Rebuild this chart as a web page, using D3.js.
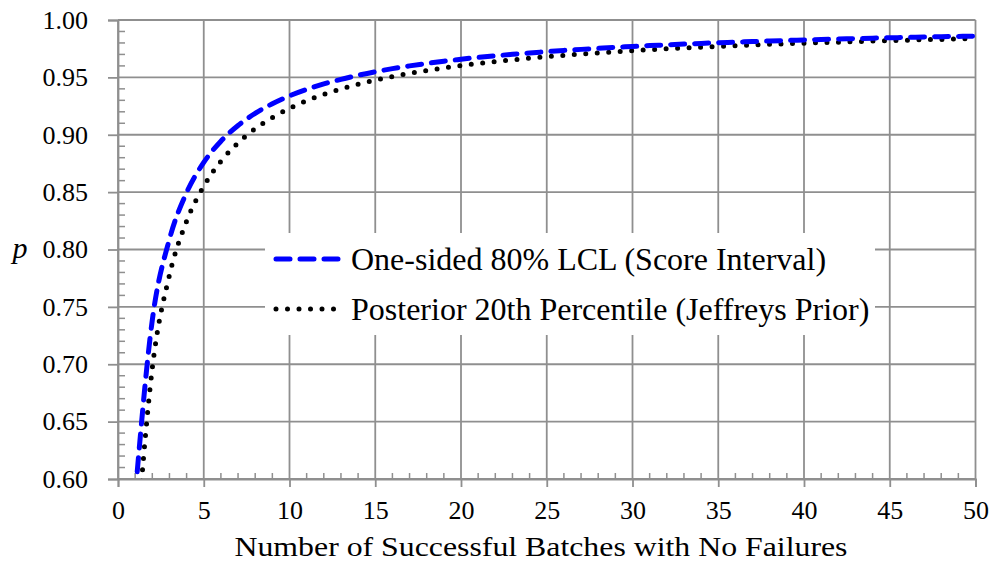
<!DOCTYPE html>
<html>
<head>
<meta charset="utf-8">
<script src="https://cdn.jsdelivr.net/npm/d3@7"></script>
<style>
  body { margin: 0; background: #fff; }
  text { font-family: 'Liberation Serif', serif; fill: #000; }
</style>
</head>
<body>
<div id="chart"></div>
<script>
// number of successful batches (n)
let batches = [1, 2, 3, 4, 5, 6, 7, 8, 9, 10,
  11, 12, 13, 14, 15, 16, 17, 18, 19, 20,
  21, 22, 23, 24, 25, 26, 27, 28, 29, 30,
  31, 32, 33, 34, 35, 36, 37, 38, 39, 40,
  41, 42, 43, 44, 45, 46, 47, 48, 49, 50];

// one-sided 80% lower confidence limit (score interval)
let scoreLCL = [0.5854, 0.7385, 0.8090, 0.8496, 0.8759, 0.8944, 0.9081, 0.9187, 0.9270, 0.9339,
  0.9395, 0.9443, 0.9483, 0.9518, 0.9549, 0.9576, 0.9600, 0.9621, 0.9641, 0.9658,
  0.9674, 0.9688, 0.9701, 0.9713, 0.9724, 0.9735, 0.9744, 0.9753, 0.9762, 0.9769,
  0.9777, 0.9783, 0.9790, 0.9796, 0.9802, 0.9807, 0.9812, 0.9817, 0.9822, 0.9826,
  0.9830, 0.9834, 0.9838, 0.9842, 0.9845, 0.9848, 0.9852, 0.9855, 0.9857, 0.9860];

// posterior 20th percentile (Jeffreys prior)
let jeffreys = [0.5280, 0.6966, 0.7777, 0.8247, 0.8552, 0.8769, 0.8929, 0.9053, 0.9150, 0.9230,
  0.9296, 0.9352, 0.9399, 0.9440, 0.9476, 0.9507, 0.9535, 0.9560, 0.9582, 0.9603,
  0.9621, 0.9638, 0.9653, 0.9667, 0.9680, 0.9692, 0.9703, 0.9713, 0.9723, 0.9732,
  0.9741, 0.9749, 0.9756, 0.9763, 0.9770, 0.9776, 0.9782, 0.9788, 0.9793, 0.9798,
  0.9803, 0.9807, 0.9812, 0.9816, 0.9820, 0.9824, 0.9828, 0.9831, 0.9835, 0.9838];

let seriesNames = ["One-sided 80% LCL (Score Interval)", "Posterior 20th Percentile (Jeffreys Prior)"];
let xTicks = [0, 5, 10, 15, 20, 25, 30, 35, 40, 45, 50];
let yTicks = [0.60, 0.65, 0.70, 0.75, 0.80, 0.85, 0.90, 0.95, 1.00];

let width = 993,
    height = 571,
    margin = {left: 118, right: 17.5, top: 20, bottom: 92};

let x = d3.scaleLinear().domain([0, 50]).range([margin.left, width - margin.right]);
let y = d3.scaleLinear().domain([0.60, 1.00]).range([height - margin.bottom, margin.top]);

let svg = d3.select("#chart")
    .append("svg")
    .attr("width", width)
    .attr("height", height);

let gridColor = "#8f8f8f";

// gridlines
svg.append("g")
    .selectAll("line")
    .data(xTicks)
    .enter().append("line")
    .attr("x1", d => x(d)).attr("x2", d => x(d))
    .attr("y1", y(1.00)).attr("y2", y(0.60))
    .attr("stroke", gridColor).attr("stroke-width", 1.8);

svg.append("g")
    .selectAll("line")
    .data(yTicks)
    .enter().append("line")
    .attr("x1", x(0)).attr("x2", x(50))
    .attr("y1", d => y(d)).attr("y2", d => y(d))
    .attr("stroke", gridColor).attr("stroke-width", 1.8);

// minor ticks (inside)
let xMinor = d3.range(0, 51, 1).filter(d => d % 5 !== 0);
svg.append("g")
    .selectAll("line")
    .data(xMinor)
    .enter().append("line")
    .attr("x1", d => x(d)).attr("x2", d => x(d))
    .attr("y1", y(0.60)).attr("y2", y(0.60) - 6)
    .attr("stroke", gridColor).attr("stroke-width", 1.5);

let yMinor = d3.range(60, 101, 1).filter(d => d % 5 !== 0).map(d => d / 100);
svg.append("g")
    .selectAll("line")
    .data(yMinor)
    .enter().append("line")
    .attr("x1", x(0)).attr("x2", x(0) + 7)
    .attr("y1", d => y(d)).attr("y2", d => y(d))
    .attr("stroke", gridColor).attr("stroke-width", 1.5);

// axes
let xAxis = d3.axisBottom(x).tickValues(xTicks).tickSize(8).tickPadding(14).tickFormat(d3.format("d"));
let gx = svg.append("g")
    .attr("transform", "translate(0," + y(0.60) + ")")
    .call(xAxis);

let yAxis = d3.axisLeft(y).tickValues(yTicks).tickSize(10).tickPadding(20).tickFormat(d3.format(".2f"));
let gy = svg.append("g")
    .attr("transform", "translate(" + x(0) + ",0)")
    .call(yAxis);

[gx, gy].forEach(g => {
  g.attr("font-family", null).attr("font-size", null);
  g.select(".domain").attr("stroke", gridColor).attr("stroke-width", 1.8);
  g.selectAll(".tick line").attr("stroke", gridColor).attr("stroke-width", 1.8);
  g.selectAll(".tick text")
    .attr("fill", "#000")
    .style("font-size", "26px");
});

// axis titles
svg.append("text")
    .attr("x", 541)
    .attr("y", 556)
    .attr("text-anchor", "middle")
    .attr("textLength", 613)
    .attr("lengthAdjust", "spacingAndGlyphs")
    .style("font-size", "28px")
    .text("Number of Successful Batches with No Failures");

svg.append("text")
    .attr("x", 20)
    .attr("y", 258)
    .attr("text-anchor", "middle")
    .style("font-size", "30px")
    .style("font-style", "italic")
    .text("p");

// curves
svg.append("clipPath")
    .attr("id", "plot-clip")
    .append("rect")
    .attr("x", x(0)).attr("y", y(1.00) - 4)
    .attr("width", x(50) - x(0) + 4)
    .attr("height", y(0.60) - y(1.00) + 4);

let line = d3.line()
    .x(d => x(d[0]))
    .y(d => y(d[1]))
    .curve(d3.curveMonotoneX);

let scorePts = batches.map((n, i) => [n, scoreLCL[i]]);
let jeffPts = batches.map((n, i) => [n, jeffreys[i]]);

let curves = svg.append("g").attr("clip-path", "url(#plot-clip)");

curves.append("path")
    .attr("d", line(jeffPts))
    .attr("fill", "none")
    .attr("stroke", "#000")
    .attr("stroke-width", 5)
    .attr("stroke-linecap", "round")
    .attr("stroke-dasharray", "0,11.5");

curves.append("path")
    .attr("d", line(scorePts))
    .attr("fill", "none")
    .attr("stroke", "#0000ff")
    .attr("stroke-width", 5)
    .attr("stroke-linecap", "round")
    .attr("stroke-dasharray", "14,10");

// legend
let legend = svg.append("g");
legend.append("rect")
    .attr("x", 265).attr("y", 233)
    .attr("width", 610).attr("height", 102)
    .attr("fill", "#fff");

let legendRows = [
  {name: seriesNames[0], color: "#0000ff", dash: "14,10", y: 259},
  {name: seriesNames[1], color: "#000", dash: "0,11.5", y: 309}
];

legendRows.forEach(r => {
  legend.append("line")
      .attr("x1", 276).attr("x2", 338)
      .attr("y1", r.y).attr("y2", r.y)
      .attr("stroke", r.color)
      .attr("stroke-width", 5)
      .attr("stroke-linecap", "round")
      .attr("stroke-dasharray", r.dash);
  legend.append("text")
      .attr("x", 351)
      .attr("y", r.y + 11)
      .style("font-size", "32px")
      .text(r.name);
});
</script>
</body>
</html>
